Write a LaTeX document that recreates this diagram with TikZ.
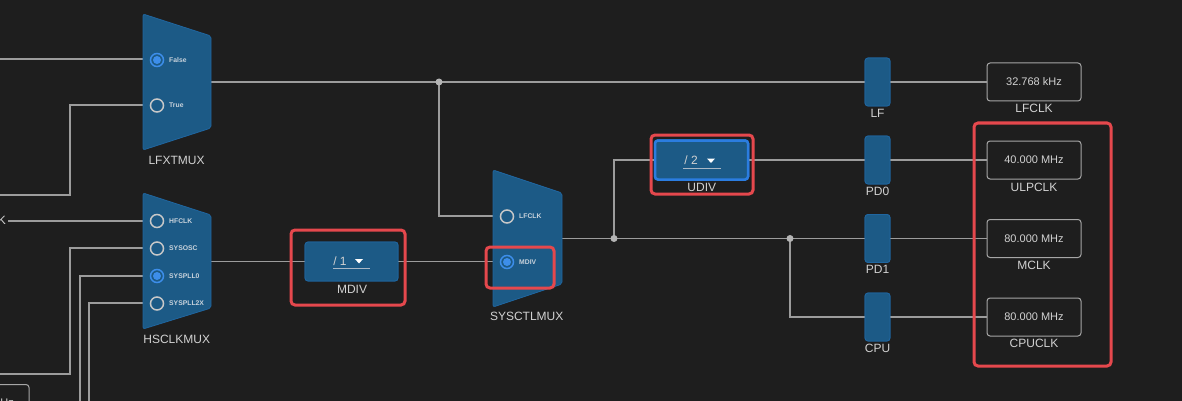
\documentclass[tikz,border=0pt]{standalone}
\usepackage{fontspec}
\setmainfont{Liberation Sans}
\definecolor{bg}{HTML}{1E1E1E}
\definecolor{muxc}{HTML}{1C5A86}
\definecolor{muxb}{HTML}{2066A0}
\definecolor{wirec}{HTML}{9C9C9C}
\definecolor{txtc}{HTML}{D2D2D2}
\definecolor{radc}{HTML}{C9D3DC}
\definecolor{ringc}{HTML}{C8C8C8}
\definecolor{selc}{HTML}{3D8EEA}
\definecolor{redc}{HTML}{E5484D}
\definecolor{boxc}{HTML}{A6A6A6}
\definecolor{dotc}{HTML}{B4B4B4}
\definecolor{ulc}{HTML}{A9B8C6}
\definecolor{focc}{HTML}{2B7DE0}
\begin{document}
\begin{tikzpicture}[x=1pt,y=-1pt,
  wire/.style={draw=wirec, line width=1.2pt},
  mux/.style={fill=muxc, draw=muxb, line width=0.8pt, rounded corners=2pt},
  radiooff/.style={circle, draw=ringc, line width=1.5pt, minimum size=13pt, inner sep=0pt},
  radioon/.style={circle, draw=selc, line width=1.5pt, minimum size=13pt, inner sep=0pt,
     path picture={\fill[selc] (path picture bounding box.center) circle (4pt);}},
  radlbl/.style={font=\fontsize{6.8}{8}\selectfont\bfseries, text=radc, anchor=west, inner sep=0pt},
  lbl/.style={font=\fontsize{12}{14}\selectfont, text=txtc, inner sep=0pt},
  valbox/.style={draw=boxc, line width=1pt, rounded corners=3pt, fill=bg, minimum width=94pt,
     minimum height=38pt, inner sep=0pt, font=\fontsize{11}{13}\selectfont, text=txtc},
  pdblk/.style={fill=muxc, draw=muxb, line width=0.8pt, rounded corners=3pt, minimum width=25pt,
     minimum height=48pt, inner sep=0pt},
  divbox/.style={fill=muxc, draw=muxb, line width=0.8pt, rounded corners=3pt, minimum width=93pt,
     minimum height=39pt, inner sep=0pt},
  divtxt/.style={font=\fontsize{12}{14}\selectfont, text=txtc, inner sep=0pt},
  hl/.style={draw=redc, line width=3pt, rounded corners=4pt},
  jdot/.style={circle, fill=dotc, inner sep=0pt, minimum size=7pt}
]
\fill[bg] (0,0) rectangle (1182,401);
\clip (0,0) rectangle (1182,401);

% ---------- coordinates ----------
\coordinate (lfF) at (143,59);
\coordinate (lfT) at (143,105);
\coordinate (lfO) at (211,82);
\coordinate (hsH) at (143,221);
\coordinate (hsS) at (143,248);
\coordinate (hsP) at (143,276);
\coordinate (hsX) at (143,303);
\coordinate (hsO) at (211,261.5);
\coordinate (scL) at (493,216);
\coordinate (scM) at (493,261.5);
\coordinate (scO) at (562,238.5);
\coordinate (j1) at (439,82);
\coordinate (j2) at (614,238.5);
\coordinate (j3) at (790,238.5);
\coordinate (e1) at (0,59);
\coordinate (e2) at (0,195);
\coordinate (e3) at (8,221);
\coordinate (e4) at (0,374);
\coordinate (e5) at (80,402);
\coordinate (e6) at (89,402);

% ---------- blocks ----------
\node[divbox] (MDIV) at (351.5,261.5) {};
\node[divbox, draw=focc, line width=2.5pt] (UDIV) at (701.5,160) {};
\node[pdblk] (LF)  at (877.5,82) {};
\node[pdblk] (PD0) at (877.5,160) {};
\node[pdblk] (PD1) at (877.5,238.5) {};
\node[pdblk] (CPU) at (877.5,317) {};
\node[valbox] (LFCLK)  at (1034,82) {32.768 kHz};
\node[valbox] (ULPCLK) at (1034,160) {40.000 MHz};
\node[valbox] (MCLK)   at (1034,238.5) {80.000 MHz};
\node[valbox] (CPUCLK) at (1034,317) {80.000 MHz};

% ---------- wires ----------
\draw[wire] (e1) -- (lfF);
\draw[wire] (lfT) -- (70,105) -- (70,195) -- (e2);
\draw[wire] (e3) -- (hsH);
\draw[wire] (hsS) -- (70,248) -- (70,374) -- (e4);
\draw[wire] (hsP) -- (80,276) -- (e5);
\draw[wire] (hsX) -- (89,303) -- (e6);
\draw[wire] (lfO) -- (j1) -- (LF.west);
\draw[wire] (j1) |- (scL);
\draw[wire] (hsO) -- (MDIV.west);
\draw[wire] (MDIV.east) -- (scM);
\draw[wire] (scO) -- (j2) -- (j3) -- (PD1.west);
\draw[wire] (j2) |- (UDIV.west);
\draw[wire] (UDIV.east) -- (PD0.west);
\draw[wire] (j3) |- (CPU.west);
\draw[wire] (LF.east) -- (LFCLK.west);
\draw[wire] (PD0.east) -- (ULPCLK.west);
\draw[wire] (PD1.east) -- (MCLK.west);
\draw[wire] (CPU.east) -- (CPUCLK.west);

% redraw blocks over wires
\node[divbox] at (MDIV) {};
\node[divbox, draw=focc, line width=2.5pt] at (UDIV) {};
\node[pdblk] at (LF) {};
\node[pdblk] at (PD0) {};
\node[pdblk] at (PD1) {};
\node[pdblk] at (CPU) {};

\node[jdot] (d1) at (j1) {};
\node[jdot] (d2) at (j2) {};
\node[jdot] (d3) at (j3) {};

% ---------- muxes ----------
\path[mux] (143,14) -- (211,36) -- (211,128) -- (143,150) -- cycle;
\path[mux] (143,193) -- (211,215) -- (211,308) -- (143,329) -- cycle;
\path[mux] (493,170) -- (562,193) -- (562,284) -- (493,307) -- cycle;

\node[radioon]  (rF) at (157,60) {};
\node[radlbl] at (169,60) {False};
\node[radiooff] (rT) at (157,105.5) {};
\node[radlbl] at (169,105.5) {True};

\node[radiooff] (rH) at (157,221) {};
\node[radlbl] at (169,221) {HFCLK};
\node[radiooff] (rS) at (157,248.5) {};
\node[radlbl] at (169,248.5) {SYSOSC};
\node[radioon]  (rP) at (157,276) {};
\node[radlbl] at (169,276) {SYSPLL0};
\node[radiooff] (rX) at (157,303.5) {};
\node[radlbl] at (169,303.5) {SYSPLL2X};

\node[radiooff] (rL) at (507,216.5) {};
\node[radlbl] at (519,216.5) {LFCLK};
\node[radioon]  (rM) at (507,262) {};
\node[radlbl] at (519,262) {MDIV};

% ---------- divider contents ----------
\node[divtxt] at (340,261) {/ 1};
\fill[white] (355,259) -- (363,259) -- (359,263.5) -- cycle;
\draw[ulc, line width=1pt] (333,268) -- (370,268);
\node[divtxt] at (691,160) {/ 2};
\fill[white] (707,158.5) -- (715,158.5) -- (711,163) -- cycle;
\draw[ulc, line width=1pt] (683,168) -- (721,168);

% ---------- labels ----------
\node[lbl] at (176.5,160) {LFXTMUX};
\node[lbl] at (176.7,339.5) {HSCLKMUX};
\node[lbl] at (526.7,316.7) {SYSCTLMUX};
\node[lbl] at (352,289) {MDIV};
\node[lbl] at (701.8,187.5) {UDIV};
\node[lbl] at (877.5,113) {LF};
\node[lbl] at (877.5,191.3) {PD0};
\node[lbl] at (877.5,269.8) {PD1};
\node[lbl] at (877.5,348) {CPU};
\node[lbl] at (1034,108.7) {LFCLK};
\node[lbl] at (1034,187) {ULPCLK};
\node[lbl] at (1034,265.5) {MCLK};
\node[lbl] at (1034,343.7) {CPUCLK};

% ---------- partial left items ----------
\node[lbl, anchor=east] (kk) at (6,220) {K};
\draw[draw=boxc, line width=1pt, rounded corners=3pt, fill=bg] (-20,384.5) rectangle (29,430);
\node[font=\fontsize{11}{13}\selectfont, text=txtc, inner sep=0pt, anchor=base east] (hz) at (14,406) {Hz};

% ---------- highlight boxes ----------
\draw[hl] (291,230) rectangle (405,305);
\draw[hl] (486,247) rectangle (554,288);
\draw[hl] (651,135) rectangle (753,194);
\draw[hl] (974,123) rectangle (1111,366);
\end{tikzpicture}
\end{document}
